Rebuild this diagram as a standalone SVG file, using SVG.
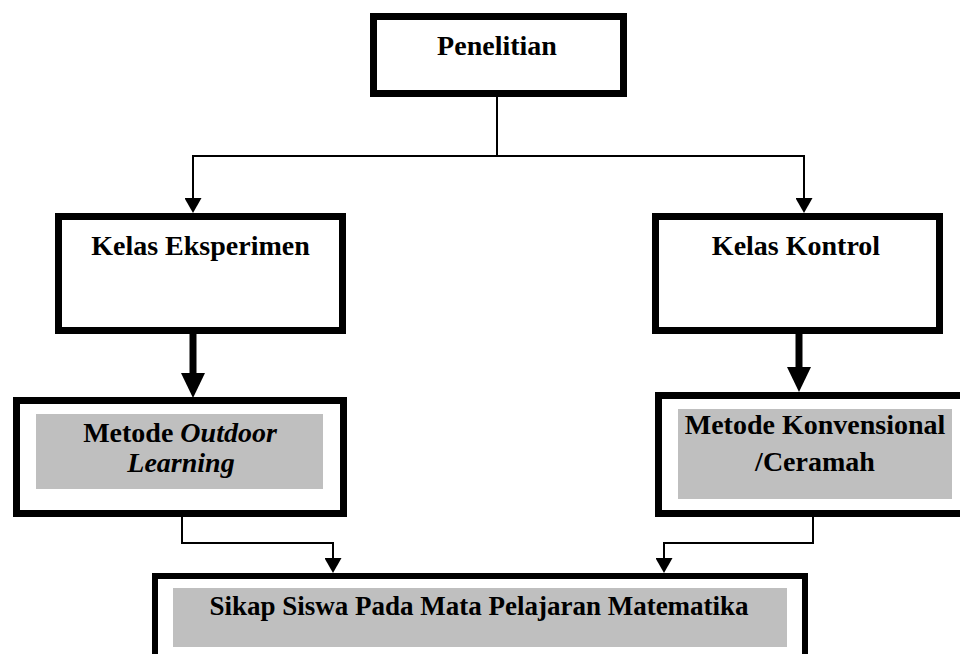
<svg xmlns="http://www.w3.org/2000/svg" width="960" height="654" viewBox="0 0 960 654">
<style>
.box{fill:#fff;stroke:#000;stroke-width:7}
.gray{fill:#bfbfbf;stroke:none}
.lbl{font-family:"Liberation Serif","Times New Roman",serif;font-weight:bold;font-size:28px;fill:#000;text-anchor:middle}
.thin{fill:none;stroke:#000;stroke-width:2;marker-end:url(#ah)}
.thick{fill:none;stroke:#000;stroke-width:7;marker-end:url(#ahb)}
</style>
<defs>
<marker id="ah" markerUnits="userSpaceOnUse" viewBox="0 0 15 17" markerWidth="15" markerHeight="17" refX="0" refY="8.5" orient="auto"><path d="M0,0 L15,8.5 L0,17 z" fill="#000"/></marker>
<marker id="ahb" markerUnits="userSpaceOnUse" viewBox="0 0 25 24" markerWidth="25" markerHeight="24" refX="0" refY="12" orient="auto"><path d="M0,0 L25,12 L0,24 z" fill="#000"/></marker>
</defs>
<rect width="960" height="654" fill="#fff"/>
<g id="connectors">
<path d="M497,97 V156 M193,156 H804" fill="none" stroke="#000" stroke-width="2"/>
<path class="thin" d="M193,155 V198"/>
<path class="thin" d="M804,155 V198"/>
<path class="thick" d="M193,334 V373"/>
<path class="thick" d="M799,334 V367"/>
<path class="thin" d="M182,517 V543 H333 V558"/>
<path class="thin" d="M813,517 V543 H664 V558"/>
</g>
<g id="penelitian">
<rect class="box" x="373.5" y="16.5" width="250" height="77"/>
<text class="lbl" x="497" y="55">Penelitian</text>
</g>
<g id="kelas-eksperimen">
<rect class="box" x="58.5" y="216.5" width="284" height="114"/>
<text class="lbl" x="200.5" y="255">Kelas Eksperimen</text>
</g>
<g id="kelas-kontrol">
<rect class="box" x="655.5" y="216.5" width="284" height="114"/>
<text class="lbl" x="796" y="255">Kelas Kontrol</text>
</g>
<g id="metode-outdoor">
<rect class="box" x="16.5" y="400.5" width="327" height="113"/>
<rect class="gray" x="36" y="414" width="287" height="75"/>
<text class="lbl" x="180" y="442">Metode <tspan font-style="italic">Outdoor</tspan></text>
<text class="lbl" x="181" y="472" font-style="italic">Learning</text>
</g>
<g id="metode-konvensional">
<rect class="box" x="658.5" y="395.5" width="320" height="118"/>
<rect class="gray" x="678" y="409" width="274" height="90"/>
<text class="lbl" x="815" y="434">Metode Konvensional</text>
<text class="lbl" x="815" y="471">/Ceramah</text>
</g>
<g id="sikap-siswa">
<rect class="box" x="155" y="576" width="650" height="120" style="stroke-width:6"/>
<rect class="gray" x="173" y="588" width="614" height="59"/>
<text class="lbl" x="479" y="615" style="font-size:27px">Sikap Siswa Pada Mata Pelajaran Matematika</text>
</g>
</svg>
